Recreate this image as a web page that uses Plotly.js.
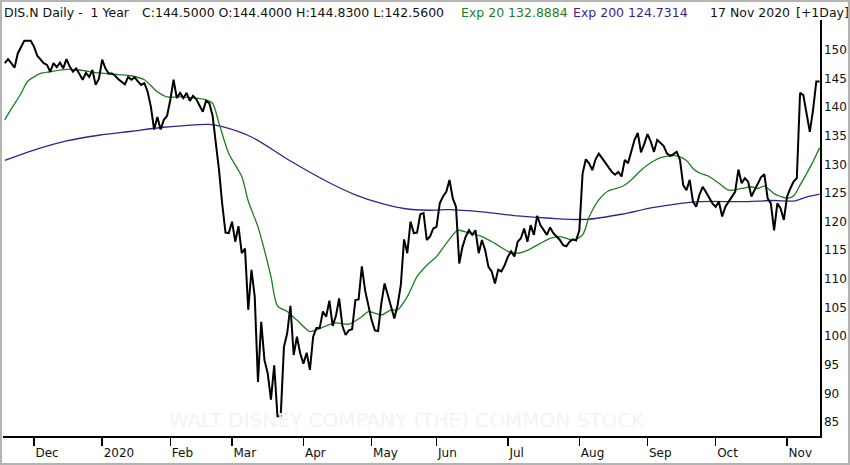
<!DOCTYPE html>
<html>
<head>
<meta charset="utf-8">
<script src="https://cdn.plot.ly/plotly-3.0.1.min.js"></script>
<style>
  html, body { margin: 0; padding: 0; background: #fff; }
  #wrap { position: relative; width: 850px; height: 465px; }
  #chart { width: 850px; height: 465px; }
  #frame { position: absolute; left: 0; top: 0; width: 850px; height: 465px; box-sizing: border-box;
           border: 2px solid #b4b4b4; pointer-events: none; }
</style>
</head>
<body>
<div id="wrap"><div id="chart"></div><div id="frame"></div></div>
<script>
// Trading-day index (0 = first trading day of Dec 2019)
const closeDay = [-9,-8,-7,-6,-5,-3,-1,0,1,2,3,4,5,6,7,8,9,10,11,12,13,15,16,17,18,19,20,21,22,23,24,25,26,28,29,30,31,32,33,34,35,36,37,38,39,40,41,42,43,44,45,46,47,48,49,50,51,52,53,54,55,56,57,58,59,60,61,62,63,64,65,66,67,68,69,70,71,72,73,74,75,76,77,78,79,80,81,82,83,84,85,86,87,88,89,90,91,92,93,94,95,96,97,98,99,100,101,102,103,104,105,106,107,108,109,110,111,112,113,114,115,116,117,118,119,120,121,122,123,124,125,126,127,128,129,130,131,132,133,134,135,136,137,138,139,140,141,142,143,144,145,146,147,148,149,150,151,152,153,154,155,156,157,158,159,160,161,162,163,164,165,166,167,168,169,170,171,172,173,174,175,176,177,178,179,180,181,182,183,184,185,186,187,188,189,190,191,192,193,194,195,196,197,198,199,200,201,202,203,204,205,206,207,208,209,210,211,212,213,214,215,216,217,218,219,220,221,222,223,224,225,226,227,228,229,230,231,232,233,234,235,236,237,238,239,240,241,242];
const closeVal = [147.7,148.4,147.7,146.9,149.4,151.6,151.6,150.6,149,148.4,147.7,147.4,146.2,147.7,147,147.8,146.8,148.4,147.1,146.2,146.8,144.8,146,145.3,146.5,143.9,145,148.3,146.8,145.9,145.9,145.5,144.9,144,145.3,144.8,145.2,144.5,143.9,144.2,142.7,140.1,136.1,138.3,136.1,137.8,138.5,141.3,144.8,141.6,142.5,141.6,142.5,141.1,142,141.4,140.4,139.2,141.1,140.7,138.6,134.3,129,123,118.1,118,120,116.5,119.2,114.5,115.3,104.6,111.6,106.9,92,102.5,95.8,93.5,88.9,94.9,86,86,98.1,100.5,105.3,96.7,99.9,97,95.2,97.1,94.1,99.9,101.4,101.4,104.3,103.4,106.2,101.8,103.5,106.6,101.8,100.2,101,101.2,106.3,106.4,112.2,108,105.1,102.8,101,100.9,105.7,109.2,107.2,105.1,103.1,105.4,108.9,116.9,114.5,120,118,118.1,121.3,121.5,116.8,117.4,118.8,119.1,123.2,124.4,125.2,127.3,124.1,122.6,112.7,115.6,117.4,118.5,117.7,118.5,114.5,116.8,115,112.1,111.3,109.2,111.6,111.3,112.4,113.9,114.8,113.9,116.5,117.1,118.8,116.5,119.4,117.7,121,119.4,118.5,117.7,119,118,117.4,116.8,115.9,115.7,116.5,116.9,116.7,118.5,128.4,130.9,130.2,129,130.9,131.9,131.1,130.3,129.3,128.7,128.2,128.7,127.9,130.8,130.2,132.2,134.3,135.5,132.1,133.6,135.3,134,132.2,134.3,133.7,133.2,131.9,131.5,131.8,132.2,130.8,126.4,125.5,127.3,123.5,122.6,124.7,126.1,125.2,124.1,123.2,122.6,123.5,120.9,122.6,123.5,124.4,125.2,129.1,126.7,127.6,127,124.4,125.5,126.7,127.8,128.3,124.1,123.2,118.5,123.2,122.3,120.3,124.4,125.8,127,127.6,142.5,142.1,138.9,135.7,139.5,144.5,144.5];

const ema20Day = [-9,-7,-4,-2,0,2,5,10,14,20,26,30,34,38,41,45,50,53,55,57,60,64,66,69,71,73,75,78,81,85,87,90,93,97,101,103,107,110,112,115,118,121,124,127,130,131,134,138,142,146,149,152,156,159,162,166,169,171,174,177,181,184,187,190,193,196,198,201,203,205,208,211,214,218,221,223,225,228,230,232,234,236,238,240,242];
const ema20Val = [137.8,139.7,142.4,144.5,145.3,145.9,146.2,146.6,146.5,146,145.7,145.5,144.8,142.7,141.8,141.8,141.6,141.3,140.7,137.2,131.9,127.9,123.6,119.1,115,110.4,105.3,104.3,102.8,100.8,101.1,101.8,102.3,102.1,103.4,104.3,103.7,104.6,104.6,106.9,110.4,112.4,113.9,116.2,118.3,118.5,118,117.4,116.2,114.8,114.5,115,116.2,117.1,117.4,116.8,117.7,120.8,123.8,125.4,126.1,127.3,129,130.3,131.2,131.5,131.5,130.7,129.3,128.5,127.9,126.7,125.5,125.8,126.1,125.8,126.2,124.9,124.4,124.1,124.5,126.4,128.4,130.5,132.9];

const ema200Day = [-9,0,10,20,30,40,54,58,67,79,91,99,107,114,122,128,138,149,159,170,181,191,205,218,228,234,238,242];
const ema200Val = [130.7,132.5,134.1,135.1,135.8,136.5,137,136.6,134.8,130.6,126.8,124.7,123.2,122.3,122,122.1,121.7,121,120.6,120.4,121.3,122.5,123.5,123.5,123.7,123.6,124.3,124.8];

const monthTickDay = [0,21,42,61,83,104,124,146,168,189,210,232];
const monthTickText = ['Dec','2020','Feb','Mar','Apr','May','Jun','Jul','Aug','Sep','Oct','Nov'];
const priceTicks = [85,90,95,100,105,110,115,120,125,130,135,140,145,150];

const FONT = 'DejaVu Sans, Verdana, sans-serif';
const W = 850, H = 465, ML = 3, MR = 30, MT = 20, MB = 29;
const PW = W - ML - MR, PH = H - MT - MB;
const px = x => (x - ML) / PW;          // pixel -> paper x
const py = y => 1 + (MT - y) / PH;      // pixel -> paper y

const traces = [
  { x: ema200Day, y: ema200Val, type: 'scatter', mode: 'lines',
    line: { color: '#3b1f92', width: 1.3, shape: 'spline', smoothing: 0.8 }, hoverinfo: 'skip' },
  { x: ema20Day, y: ema20Val, type: 'scatter', mode: 'lines',
    line: { color: '#1d7f1d', width: 1.3, shape: 'spline', smoothing: 0.8 }, hoverinfo: 'skip' },
  { x: closeDay, y: closeVal, type: 'scatter', mode: 'lines',
    line: { color: '#000000', width: 2 }, hoverinfo: 'skip' }
];

const hdr = (x, text, color) => ({
  xref: 'paper', yref: 'paper', x: px(x), y: py(12.5), xanchor: 'left', yanchor: 'middle',
  text: text, showarrow: false, font: { family: FONT, size: 12.5, color: color }
});

const layout = {
  width: W, height: H,
  margin: { l: ML, r: MR, t: MT, b: MB, pad: 0 },
  paper_bgcolor: '#ffffff', plot_bgcolor: '#ffffff',
  showlegend: false,
  font: { family: FONT, size: 12, color: '#111111' },
  xaxis: {
    range: [-9.55, 242.14], tickmode: 'array', tickvals: monthTickDay, ticktext: monthTickText,
    ticks: 'outside', ticklen: 8, tickwidth: 1.5, tickcolor: '#000',
    ticklabelposition: 'outside right', ticklabelstandoff: 5,
    showline: true, linecolor: '#000', linewidth: 1.5, showgrid: false, zeroline: false,
    tickfont: { family: FONT, size: 12, color: '#111' }, fixedrange: true
  },
  yaxis: {
    side: 'right', range: [82.55, 155.24], tickmode: 'array', tickvals: priceTicks,
    ticks: '', showline: true, linecolor: '#000', linewidth: 1.5, showgrid: false, zeroline: false,
    tickfont: { family: FONT, size: 12, color: '#111' }, fixedrange: true
  },
  annotations: [
    hdr(2, 'DIS.N Daily -  1 Year', '#111'),
    hdr(140, 'C:144.5000 O:144.4000 H:144.8300 L:142.5600', '#111'),
    hdr(459, 'Exp 20 132.8884', '#1d7f1d'),
    hdr(571, 'Exp 200 124.7314', '#3b1f92'),
    hdr(708, '17 Nov 2020', '#111'),
    hdr(794, '[+1Day]', '#111'),
    { xref: 'paper', yref: 'paper', x: px(407), y: py(420), xanchor: 'center', yanchor: 'middle',
      text: 'WALT DISNEY COMPANY (THE) COMMON STOCK', showarrow: false,
      font: { family: FONT, size: 20, color: '#f3f3f3' } }
  ]
};

Plotly.newPlot('chart', traces, layout, { staticPlot: true, displayModeBar: false });
</script>
</body>
</html>
